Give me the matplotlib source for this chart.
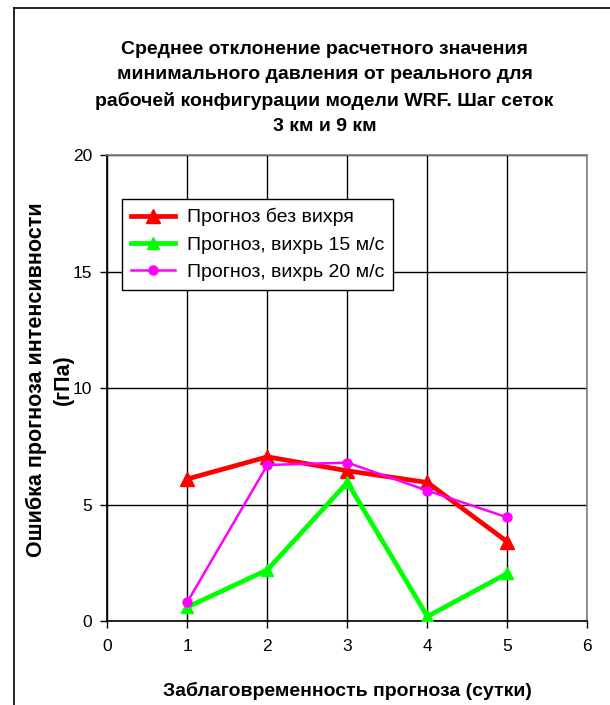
import matplotlib.pyplot as plt
from matplotlib.lines import Line2D

plt.rcParams['font.family'] = ['Liberation Sans', 'DejaVu Sans']

days = [1, 2, 3, 4, 5]
no_vortex = [6.1, 7.05, 6.45, 5.95, 3.4]
vortex_15 = [0.6, 2.2, 5.95, 0.2, 2.05]
vortex_20 = [0.82, 6.7, 6.8, 5.6, 4.45]

labels = ['Прогноз без вихря', 'Прогноз, вихрь 15 м/с', 'Прогноз, вихрь 20 м/с']
title = ('Среднее отклонение расчетного значения\n'
         'минимального давления от реального для\n'
         'рабочей конфигурации модели WRF. Шаг сеток\n'
         '3 км и 9 км')

fig = plt.figure(figsize=(6.1, 7.05), dpi=100)
ax = fig.add_axes([0.176, 0.119, 0.787, 0.661])

# frame around the whole chart (top and left edges visible)
fig.add_artist(Line2D([14 / 610, 1], [1 - 8 / 705, 1 - 8 / 705], color='black', lw=1.2))
fig.add_artist(Line2D([14 / 610, 14 / 610], [0, 1 - 8 / 705], color='black', lw=1.2))

ax.plot(days, no_vortex, color='#ff0000', lw=3.4, marker='^', ms=10, label=labels[0], zorder=3)
ax.plot(days, vortex_15, color='#00ff00', lw=3.4, marker='^', ms=8, label=labels[1], zorder=3)
ax.plot(days, vortex_20, color='#ff00ff', lw=1.8, marker='o', ms=6.5, label=labels[2], zorder=4)

ax.set_xlim(0, 6)
ax.set_ylim(0, 20)
ax.set_xticks(range(0, 7))
ax.set_yticks(range(0, 21, 5))
ax.grid(True, color='black', lw=1.0)
ax.set_axisbelow(True)
ax.tick_params(direction='out', length=5, width=1, labelsize=12.5, color='black', pad=6)
ax.tick_params(axis='x', pad=8)
for side in ['left', 'bottom']:
    ax.spines[side].set_color('black')
    ax.spines[side].set_linewidth(1.2)
for side in ['top', 'right']:
    ax.spines[side].set_color('#808080')
    ax.spines[side].set_linewidth(1.2)

fig.text(0.532, 1 - 88 / 705, title, ha='center', va='center', fontsize=14,
         fontweight='bold', linespacing=1.6)
ax.set_xlabel('Заблаговременность прогноза (сутки)', fontsize=14, fontweight='bold', labelpad=20)
fig.text(50 / 610, 1 - 380 / 705, 'Ошибка прогноза интенсивности\n(гПа)', rotation=90,
         ha='center', va='center', multialignment='center', fontsize=15.5,
         fontweight='bold', linespacing=1.4)

leg = ax.legend(loc='upper left', bbox_to_anchor=(0.03, 0.905), fontsize=14,
                frameon=True, fancybox=False, edgecolor='black', framealpha=1,
                handlelength=2.3, borderpad=0.45, labelspacing=0.5, handletextpad=0.6,
                borderaxespad=0)
leg.get_frame().set_linewidth(1.0)

plt.savefig('out.png', dpi=100)
